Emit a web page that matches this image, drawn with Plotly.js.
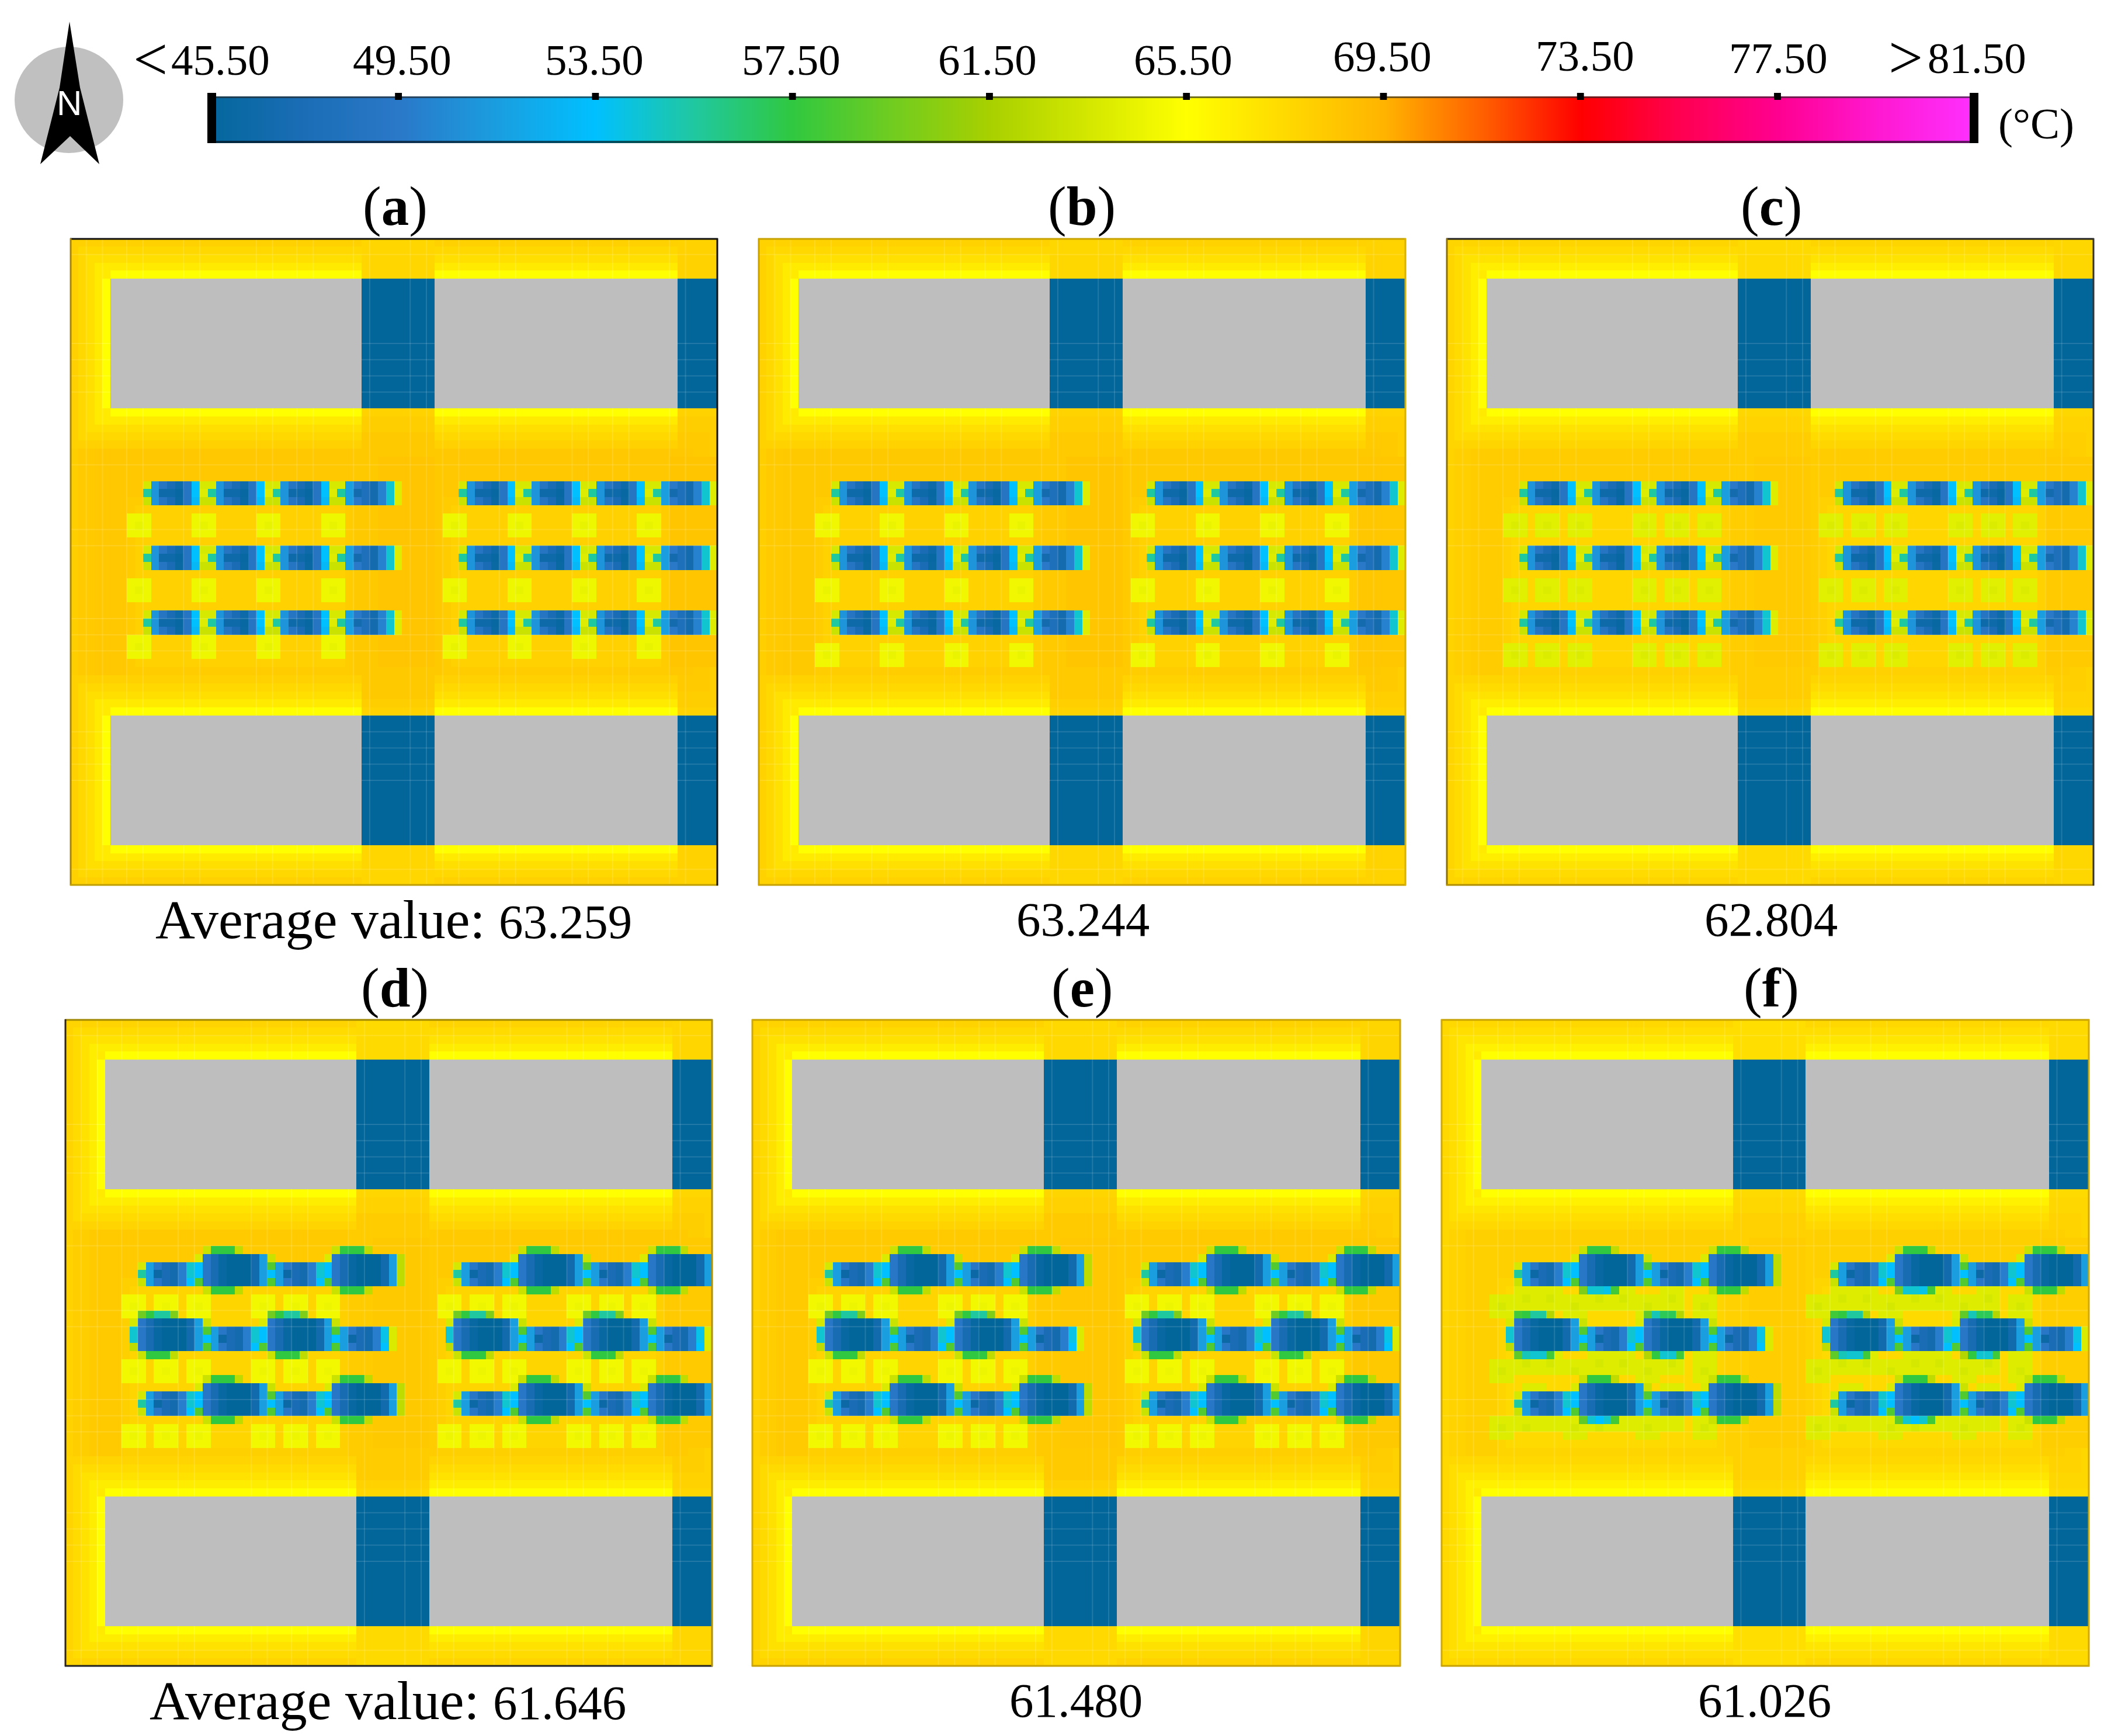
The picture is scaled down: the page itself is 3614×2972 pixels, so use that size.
<!DOCTYPE html>
<html><head><meta charset="utf-8"><title>Temperature maps</title>
<script src="https://cdn.plot.ly/plotly-3.0.1.min.js"></script>
<style>html,body{margin:0;padding:0;background:#fff}</style></head>
<body><div id="chart" style="width:3614px;height:2972px"></div>
<script>
// ---------- data ----------
const colorTemps=[45.5,47.5,49.5,51.5,53.5,55.5,57.5,59.5,61.5,65.5,69.5,71.5,73.5,75.5,77.5,79.5,81.5];
const colorHex=['#02669a','#1a6db5','#2a78c8','#1a9ee0','#00c0ff','#20c8a0','#30c840','#70cc20','#a8d000','#ffff00','#ffb400','#ff6000','#ff0000','#ff0050','#ff0090','#ff18d0','#ff30ff'];
const barStops=[45.5,47.5,49.5,51.5,53.5,55.5,57.5,59.5,61.5,63.5,65.5,67.5,69.5,71.5,73.5,75.5,77.5,79.5,81.5];
const barTicks=[49.5,53.5,57.5,61.5,65.5,69.5,73.5,77.5];
const barLabels=['45.50','49.50','53.50','57.50','61.50','65.50','69.50','73.50','77.50','81.50'];
const barSigns=['&lt;','&gt;'];
const panelLetters=['a','b','c','d','e','f'];
const captionLead=['Average value: ','','','Average value: ','',''];
const captionValues=['63.259','63.244','62.804','61.646','61.480','61.026'];
const fieldShift=[0,-0.05,-0.25,-0.2,-0.15,-0.45];
const squareTemp=[64.7,64.8,64.1,64.9,64.9,64.0];
// field patches: first row, last row, first col, last col, temperature
const fieldPatches=[[0,79,0,79,67.9],[22,57,0,79,68.1],[24,55,1,78,68.3],[26,53,3,76,68.45],[32,53,7,34,68.2],[33,52,8,33,67.95],[32,53,46,73,68.2],[33,52,47,72,67.95],[24,56,35,45,68.4],[27,52,38,44,68.6],[27,52,74,79,68.55],[0,4,36,44,67.7],[75,79,36,44,67.7]];
const buildingRows=[[5,20],[59,74]];
const buildingCols=[[5,35],[45,74]];
const coolCols=[[36,44],[75,79]];
const coolTemp=45.5;
const haloTemps=[67.95,67.6,67.2,66.6,65.5];
// layout of panels a-c: short units in three rows
const shortRows=[30,38,46];
const shortCols=[10,18,26];
const shortLastCol=34;
const shortUnit=[[51,49,47.5,46.5,49,53.5,63.6,63.6],[51,46.5,46.5,46,49,53.5,64,55.5],[51,49,47.5,46.2,49,53,63,63]];
const shortLast=[[51.5,49.5,48,47,50,54.5,64],[51.5,47,48,47,50,54.5,64],[51.5,49.5,48,47,50,54.5,64]];
const leadCol=[63.5,55.5,63];
// layout of panels d-f: staggered short and long units
const mixShort=[[51.5,49.3,47.5,47,49.8,54.5,53.5],[51.5,46.3,47.5,47,49.8,54.5,53.5],[51.5,49.3,47.5,47,49.8,53.5,58.5]];
const mixShortEnd=[[51.5,49.3,47.5,47,49.8,54],[51.5,46.3,47.5,47,49.8,54],[51.5,49.3,47.5,47,49.8,53.5]];
const longProfile=[49.3,47.3,46,45.5,45.5,45.5,46.8,51.5];
const longTail=[63,58.5,53.5,58.5];
const longEndTail=[62.5,62.5,62.5,62.5];
const longCap=[63,57.5,57.5,57.5,62.5];
const longCapMiddleTop=[59.5,57.5,55.5,55.5,60];
const longLeadMiddle=[63.5,54.5,54.5,62.5];
const yellowRows=[[34,42,49],[34,42,50],[34,42,50],[34,42,50],[34,42,50],[]];
const yellowCols=[[7,15,23,31],[7,15,23,31],[7,11,15,23,27,31],[7,11,15,23,27,31],[7,11,15,23,27,31],[]];
// panel f: dense yellow patches painted before the units
const denseYellow=[[34,35,6,29],[34,35,31,33],[36,36,6,8],[36,36,15,17],[36,36,24,29],[36,36,31,33],[33,33,9,14],[33,33,22,23],[33,33,27,29],[41,41,14,14],[41,41,18,23],[41,41,25,25],[41,41,31,33],[42,43,6,29],[42,43,31,33],[44,44,6,8],[44,44,24,26],[44,44,31,33],[45,45,10,12],[45,45,27,29],[49,49,6,16],[49,49,22,29],[49,49,31,32],[50,50,6,29],[50,50,31,33],[51,51,6,8],[51,51,15,17],[51,51,24,26],[51,51,31,33]];
const denseSpots=[[34,10],[34,13],[34,19],[34,22],[34,28],[35,7],[35,16],[35,25],[35,32],[42,10],[42,13],[42,19],[42,22],[42,28],[43,7],[43,16],[43,25],[43,32],[50,7],[50,10],[50,16],[50,19],[50,25],[50,32]];
// panel f: cooler edge cells painted after the units
const denseCool=[[33,18,54.5],[33,19,54.5],[33,20,54],[33,17,60],[33,21,58],[41,9,59],[41,10,55],[41,11,54.5],[41,12,54.5],[41,13,58],[41,25,62],[41,26,57.5],[41,27,54.5],[41,28,54.5],[41,29,58],[36,9,58],[36,13,62],[36,25,59],[36,26,55],[36,27,57],[36,28,57],[36,29,62],[49,17,59],[49,18,54.5],[49,19,53.5],[49,20,54.5],[49,21,58]];
const seamCols=[2,4,7,9,14,16,23,25,28,30,35,37,42,44,46,48,53,55,62,64,67,69,74,76];
const seamRows=[2,13,15,17,19,28,36,38,47,49,51,61,63,65,67,78];
// ---------- page geometry (pixels) ----------
const W=3614,H=2972,N=80;
const panelBoxes=[[120,408,1229,1516],[1298,408,2407,1516],[2476,408,3585,1516],[111,1745,1220,2853],[1287,1745,2398,2853],[2467,1745,3577,2853]];
const panelEdges=[['#111','#a58510','#c0a000','#111'],['#c8a200','#c8a200','#c8a200','#d8b000'],['#222','#8a7010','#b09000','#333'],['#a08800','#332510','#222','#b09000'],['#c8a200','#d0a800','#c8a200','#d0a800'],['#c8a200','#d0a800','#c8a200','#d0a800']];
const letterPos=[[676,353],[1852,353],[3032,353],[676,1691],[1852,1691],[3032,1691]];
const captionPos=[[674,1574],[1854,1574],[3032,1574],[664,2911],[1842,2911],[3021,2911]];
const barLabelPos=[[377,103],[688,103],[1018,103],[1354,103],[1690,103],[2025,103],[2366,97],[2713,95],[3044,99],[3384,99]];
const barSignPos=[[257,102],[3262,98]];
const barBox=[355,165,3387,245];
const px=x=>x/W, py=y=>1-y/H;
// ---------- build the grids ----------
function paint(z,r0,r1,c0,c1,t){for(let r=r0;r<=r1;r++)for(let c=c0;c<=c1;c++)if(r>=0&&r<N&&c>=0&&c<N)z[r][c]=t;}
function stamp(z,r,c,m){m.forEach((row,i)=>row.forEach((t,j)=>{if(c+j<N)z[r+i][c+j]=t;}));}
function column(z,r,c,v){v.forEach((t,i)=>{if(c<N)z[r+i][c]=t;});}
function rowOf(z,r,c,v){v.forEach((t,j)=>{if(c+j<N)z[r][c+j]=t;});}
function building(z,rr,cc,leftHalo,shift){
  haloTemps.forEach((t,k)=>{const d=haloTemps.length-k;const v=d===1?t:t+shift*0.8;
    paint(z,rr[0]-d,rr[1]+d,cc[0]-(leftHalo?d:0),cc[1],v);});
  if(leftHalo){paint(z,rr[0]-1,rr[0]-1,cc[0]-1,cc[0]-1,haloTemps[3]);paint(z,rr[1]+1,rr[1]+1,cc[0]-1,cc[0]-1,haloTemps[3]);}
  paint(z,rr[0],rr[1],cc[0],cc[1],null);
}
function buildGrid(p){
  const z=Array.from({length:N},()=>new Array(N).fill(0));
  fieldPatches.forEach(f=>paint(z,f[0],f[1],f[2],f[3],f[4]+fieldShift[p]));
  buildingRows.forEach(rr=>{buildingCols.forEach((cc,i)=>building(z,rr,cc,i===0,fieldShift[p]));
    coolCols.forEach(cc=>paint(z,rr[0],rr[1],cc[0],cc[1],coolTemp));});
  [0,39].forEach(off=>{
    const t=squareTemp[p];
    yellowRows[p].forEach(r=>yellowCols[p].forEach(c=>{paint(z,r,r+2,c+off,c+off+2,t);paint(z,r+1,r+1,c+off+1,c+off+1,t-0.25);}));
    if(p===5){denseYellow.forEach(d=>paint(z,d[0],d[1],d[2]+off,d[3]+off,t));denseSpots.forEach(s=>paint(z,s[0],s[0],s[1]+off,s[1]+off,t-0.5));}
    if(p<3){
      shortRows.forEach(r=>{column(z,r,9+off,leadCol);
        shortCols.forEach(c=>stamp(z,r,c+off,shortUnit));
        stamp(z,r,shortLastCol+off,shortLast);});
    }else{
      const long=(r,c,endTail)=>{for(let i=0;i<4;i++)rowOf(z,r+i,c+off,longProfile);column(z,r,c+8+off,endTail?longEndTail:longTail);};
      [[29,28,33],[45,44,49]].forEach(g=>{
        const r=g[0];
        column(z,r+1,9+off,leadCol);
        stamp(z,r+1,10+off,mixShort);stamp(z,r+1,26+off,mixShort);
        long(r,17,false);long(r,33,true);
        paint(z,r,r,16+off,16+off,63.8);paint(z,r,r,32+off,32+off,63.8);
        rowOf(z,g[1],17+off,longCap);rowOf(z,g[1],33+off,longCap);
        rowOf(z,g[2],17+off,longCap);rowOf(z,g[2],33+off,longCap);
      });
      stamp(z,38,18+off,mixShort);stamp(z,38,34+off,mixShortEnd);column(z,38,40+off,[63.8,63.8,63.8]);
      column(z,37,8+off,longLeadMiddle);
      long(37,9,false);long(37,25,false);
      paint(z,37,37,24+off,24+off,63.8);
      rowOf(z,36,9+off,longCapMiddleTop);rowOf(z,36,25+off,longCapMiddleTop);
      rowOf(z,41,9+off,longCap);rowOf(z,41,25+off,longCap);
      if(p===5)denseCool.forEach(d=>paint(z,d[0],d[0],d[1]+off,d[1]+off,d[2]));
    }
  });
  return z;
}
function inSpan(v,spans){return spans.some(s=>v>s[0]&&v<s[1]+1);}
function seamLines(){
  const x=[],y=[];
  seamCols.forEach(c=>{
    if(inSpan(c,buildingCols)){[[0,5],[21,59],[75,80]].forEach(s=>{x.push(c,c,null);y.push(s[0],s[1],null);});}
    else{x.push(c,c,null);y.push(0,80,null);}
  });
  seamRows.forEach(r=>{
    if(inSpan(r,buildingRows)){[[0,5],[36,45],[75,80]].forEach(s=>{x.push(s[0],s[1],null);y.push(r,r,null);});}
    else{x.push(0,80,null);y.push(r,r,null);}
  });
  return {x,y};
}
// ---------- traces and axes ----------
const scale=colorTemps.map((t,i)=>[(t-45.5)/36,colorHex[i]]);
const traces=[],layout={width:W,height:H,margin:{l:0,r:0,t:0,b:0},paper_bgcolor:'#fff',plot_bgcolor:'#bebebe',showlegend:false,shapes:[],annotations:[]};
const hidden={visible:false,fixedrange:true};
const seams=seamLines();
const note=(x,y,text,size,family,color)=>layout.annotations.push({xref:'paper',yref:'paper',x:px(x),y:py(y),text,showarrow:false,xanchor:'center',yanchor:'middle',font:{family:family||'Liberation Serif',size,color:color||'#000'}});
panelBoxes.forEach((b,p)=>{
  const k=p===0?'':String(p+1);
  layout['xaxis'+k]=Object.assign({},hidden,{domain:[px(b[0]),px(b[2])],range:[0,N],anchor:'y'+k});
  layout['yaxis'+k]=Object.assign({},hidden,{domain:[py(b[3]),py(b[1])],range:[N,0],anchor:'x'+k});
  traces.push({type:'heatmap',z:buildGrid(p),x0:0.5,dx:1,y0:0.5,dy:1,xaxis:'x'+k,yaxis:'y'+k,colorscale:scale,zmin:45.5,zmax:81.5,showscale:false,hoverongaps:false,hoverinfo:'skip'});
  traces.push({type:'scatter',mode:'lines',x:seams.x,y:seams.y,xaxis:'x'+k,yaxis:'y'+k,line:{color:'rgba(255,255,255,0.13)',width:2},hoverinfo:'skip'});
  const e=panelEdges[p];
  const edge=(x0,y0,x1,y1,c)=>layout.shapes.push({type:'line',xref:'paper',yref:'paper',x0:px(x0),y0:py(y0),x1:px(x1),y1:py(y1),line:{color:c,width:3}});
  edge(b[0],b[1]+1,b[2],b[1]+1,e[0]);edge(b[0]+1,b[1],b[0]+1,b[3],e[1]);edge(b[0],b[3]-1,b[2],b[3]-1,e[2]);edge(b[2]-1,b[1],b[2]-1,b[3],e[3]);
  note(letterPos[p][0],letterPos[p][1],'(<b>'+panelLetters[p]+'</b>)',95);
  const lead=captionLead[p]?'<span style="font-size:94px">'+captionLead[p]+'</span>':'';
  note(captionPos[p][0],captionPos[p][1],lead+captionValues[p],83);
});
// colour bar
layout.xaxis7={domain:[px(barBox[0]),px(barBox[2])],range:[45.62,81.58],anchor:'y7',side:'top',showticklabels:false,ticks:'',showgrid:false,zeroline:false,showline:false,fixedrange:true};
layout.yaxis7=Object.assign({},hidden,{domain:[py(barBox[3]),py(barBox[1])],range:[0,1],anchor:'x7'});
traces.push({type:'heatmap',x:barStops,y:[0,1],z:[barStops,barStops],xaxis:'x7',yaxis:'y7',colorscale:scale,zmin:45.5,zmax:81.5,zsmooth:'best',showscale:false,hoverinfo:'skip'});
const rect=(x0,y0,x1,y1,fill)=>layout.shapes.push({type:'rect',xref:'paper',yref:'paper',x0:px(x0),y0:py(y0),x1:px(x1),y1:py(y1),fillcolor:fill,line:{width:0}});
rect(355,165,3387,168,'rgba(40,40,40,0.65)');
rect(355,241,3387,245,'rgba(0,0,0,0.6)');
rect(355,159,370,245,'#000');rect(3372,159,3387,245,'#000');
barTicks.forEach(t=>layout.shapes.push({type:'rect',xref:'x7',yref:'paper',x0:t-0.07,x1:t+0.07,y0:py(159),y1:py(171),fillcolor:'#000',line:{width:0}}));
barLabels.forEach((t,i)=>note(barLabelPos[i][0],barLabelPos[i][1],t,75));
barSigns.forEach((t,i)=>note(barSignPos[i][0],barSignPos[i][1],t,105));
note(3486,211,'(°C)',75);
// north arrow
layout.shapes.push({type:'circle',xref:'paper',yref:'paper',x0:px(25),y0:py(80),x1:px(211),y1:py(262),fillcolor:'#c0c0c0',line:{width:0}});
const arrow=[[119,37],[137,150],[170,281],[120,233],[69,281],[102,150]].map((q,i)=>(i?'L':'M')+px(q[0])+','+py(q[1])).join(' ')+' Z';
layout.shapes.push({type:'path',xref:'paper',yref:'paper',path:arrow,fillcolor:'#000',line:{width:0}});
note(118,177,'N',60,'Liberation Sans','#fff');
Plotly.newPlot('chart',traces,layout,{displayModeBar:false,staticPlot:true});
</script></body></html>
